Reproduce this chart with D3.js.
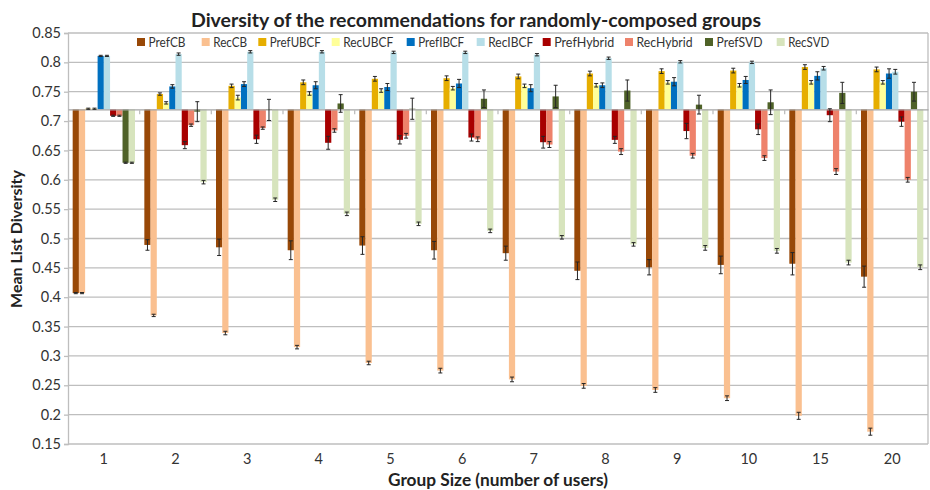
<!DOCTYPE html>
<html><head><meta charset="utf-8">
<script src="https://cdn.jsdelivr.net/npm/d3@7"></script>
<style>body{margin:0;background:#fff}svg{display:block}text{font-family:Lato,"Open Sans",sans-serif}</style>
</head><body><div id="chart"></div>
<script>
const categories = ["1","2","3","4","5","6","7","8","9","10","15","20"];
const seriesNames = ["PrefCB","RecCB","PrefUBCF","RecUBCF","PrefIBCF","RecIBCF","PrefHybrid","RecHybrid","PrefSVD","RecSVD"];
const seriesColors = ["#984807","#FAC090","#E6AE00","#FFFF99","#0070C0","#B7DEE8","#A80000","#EE826B","#4F6228","#D7E4BD"];
const prefCB = [0.407,0.489,0.485,0.480,0.488,0.480,0.475,0.445,0.451,0.455,0.457,0.435];
const prefCBErr = [0.001,0.009,0.014,0.016,0.015,0.015,0.012,0.015,0.013,0.015,0.019,0.018];
const recCB = [0.407,0.369,0.339,0.315,0.288,0.275,0.260,0.249,0.242,0.228,0.198,0.171];
const recCBErr = [0.001,0.002,0.003,0.003,0.003,0.004,0.004,0.004,0.004,0.004,0.006,0.006];
const prefUBCF = [0.721,0.746,0.760,0.766,0.772,0.773,0.776,0.781,0.785,0.786,0.792,0.788];
const prefUBCFErr = [0.001,0.002,0.003,0.004,0.004,0.004,0.004,0.004,0.004,0.004,0.004,0.004];
const recUBCF = [0.721,0.731,0.740,0.747,0.752,0.756,0.760,0.761,0.766,0.761,0.766,0.766];
const recUBCFErr = [0.001,0.002,0.004,0.003,0.003,0.003,0.003,0.003,0.003,0.003,0.003,0.003];
const prefIBCF = [0.811,0.759,0.763,0.761,0.758,0.764,0.756,0.761,0.767,0.770,0.777,0.781];
const prefIBCFErr = [0.001,0.003,0.004,0.006,0.006,0.007,0.006,0.004,0.007,0.006,0.007,0.008];
const recIBCF = [0.811,0.814,0.818,0.818,0.817,0.817,0.813,0.807,0.801,0.800,0.790,0.784];
const recIBCFErr = [0.001,0.002,0.002,0.002,0.002,0.002,0.002,0.002,0.002,0.002,0.003,0.004];
const prefHybrid = [0.709,0.659,0.669,0.663,0.668,0.672,0.664,0.668,0.683,0.686,0.710,0.699];
const prefHybridErr = [0.001,0.006,0.007,0.011,0.007,0.006,0.010,0.006,0.013,0.009,0.011,0.008];
const recHybrid = [0.709,0.693,0.688,0.684,0.675,0.669,0.660,0.648,0.641,0.637,0.614,0.600];
const recHybridErr = [0.001,0.002,0.002,0.003,0.004,0.004,0.005,0.005,0.004,0.004,0.005,0.004];
const prefSVD = [0.629,0.716,0.719,0.730,0.721,0.738,0.742,0.752,0.728,0.732,0.748,0.750];
const prefSVDErr = [0.001,0.017,0.018,0.015,0.018,0.015,0.019,0.018,0.016,0.021,0.018,0.016];
const recSVD = [0.629,0.596,0.566,0.542,0.525,0.513,0.502,0.490,0.484,0.479,0.459,0.451];
const recSVDErr = [0.001,0.003,0.003,0.003,0.003,0.003,0.003,0.003,0.004,0.004,0.004,0.004];
const yTicks = [0.15,0.2,0.25,0.3,0.35,0.4,0.45,0.5,0.55,0.6,0.65,0.7,0.75,0.8,0.85];
const baseline = 0.72;
const titleText = "Diversity of the recommendations for randomly-composed groups";
const xTitle = "Group Size (number of users)";
const yTitle = "Mean List Diversity";

const values = [prefCB,recCB,prefUBCF,recUBCF,prefIBCF,recIBCF,prefHybrid,recHybrid,prefSVD,recSVD];
const errors = [prefCBErr,recCBErr,prefUBCFErr,recUBCFErr,prefIBCFErr,recIBCFErr,prefHybridErr,recHybridErr,prefSVDErr,recSVDErr];

const W = 930, H = 490;
const L = 68, R = 928, T = 33, B = 444;
const svg = d3.select("#chart").append("svg").attr("width", W).attr("height", H);

const x = d3.scaleBand().domain(categories).range([L, R]).padding(0);
const xs = d3.scaleBand().domain(seriesNames).range([0, x.bandwidth()]).paddingInner(0).paddingOuter(0.75);
const y = d3.scaleLinear().domain([0.15, 0.85]).range([B, T]);

// gridlines
svg.append("g").selectAll("line").data(yTicks).join("line")
  .attr("x1", L).attr("x2", R).attr("y1", d => y(d)).attr("y2", d => y(d))
  .attr("stroke", "#BEBEBE").attr("stroke-width", 1.3);
svg.append("line").attr("x1", R).attr("x2", R).attr("y1", T).attr("y2", B).attr("stroke", "#BEBEBE").attr("stroke-width", 1.3);

// y axis
const yAxis = d3.axisLeft(y).tickValues(yTicks).tickFormat(d => String(+d.toFixed(2))).tickSize(4).tickPadding(3);
const gy = svg.append("g").attr("transform", `translate(${L},0)`).call(yAxis);
gy.select(".domain").attr("stroke", "#BEBEBE").attr("stroke-width", 1.3);
gy.selectAll(".tick line").attr("stroke", "#BEBEBE").attr("stroke-width", 1.3);
gy.selectAll("text").attr("font-size", 14.5).attr("fill", "#333").style("font-family", "Lato, sans-serif");

// bars
const data = [];
categories.forEach((c, i) => seriesNames.forEach((s, j) => data.push({c, s, j, v: values[j][i], e: errors[j][i]})));
svg.append("g").selectAll("rect").data(data).join("rect")
  .attr("x", d => x(d.c) + xs(d.s))
  .attr("width", xs.bandwidth())
  .attr("y", d => y(Math.max(d.v, baseline)))
  .attr("height", d => Math.abs(y(d.v) - y(baseline)))
  .attr("fill", d => seriesColors[d.j]);

// baseline axis
const gx = svg.append("g").attr("transform", `translate(0,${y(baseline)})`)
  .call(d3.axisBottom(x).tickSize(0).tickFormat(""));
gx.select(".domain").attr("stroke", "#A6A6A6").attr("stroke-width", 1.3);
svg.append("g").selectAll("line").data(categories.slice(1)).join("line")
  .attr("x1", d => x(d)).attr("x2", d => x(d))
  .attr("y1", y(baseline)).attr("y2", y(baseline) + 5)
  .attr("stroke", "#BEBEBE").attr("stroke-width", 1.3);

// error bars
const eg = svg.append("g").attr("stroke", "#262626").attr("stroke-width", 1);
data.forEach(d => {
  const cx = x(d.c) + xs(d.s) + xs.bandwidth() / 2;
  const y1 = y(d.v - d.e), y2 = y(d.v + d.e);
  eg.append("line").attr("x1", cx).attr("x2", cx).attr("y1", y1).attr("y2", y2);
  eg.append("line").attr("x1", cx - 2).attr("x2", cx + 2).attr("y1", y1).attr("y2", y1);
  eg.append("line").attr("x1", cx - 2).attr("x2", cx + 2).attr("y1", y2).attr("y2", y2);
});

// category labels
svg.append("g").selectAll("text").data(categories).join("text")
  .attr("x", d => x(d) + x.bandwidth() / 2).attr("y", 464)
  .attr("text-anchor", "middle").attr("font-size", 14.5).attr("fill", "#333").text(d => d);

// titles
svg.append("text").attr("x", 476).attr("y", 26.5).attr("text-anchor", "middle")
  .attr("font-size", 19).attr("font-weight", "bold").attr("fill", "#222")
  .attr("textLength", 570).attr("lengthAdjust", "spacingAndGlyphs").text(titleText);
svg.append("text").attr("x", 498).attr("y", 486).attr("text-anchor", "middle")
  .attr("font-size", 16.5).attr("font-weight", "bold").attr("fill", "#222")
  .attr("textLength", 220).attr("lengthAdjust", "spacingAndGlyphs").text(xTitle);
svg.append("text").attr("transform", "translate(22,239) rotate(-90)").attr("text-anchor", "middle")
  .attr("font-size", 16).attr("font-weight", "bold").attr("fill", "#222").text(yTitle);

// legend
const legendX = [137, 201.7, 258.3, 331.7, 406.7, 476.7, 542.7, 625, 705, 776.7];
const legendW = [37, 34, 51, 50, 46, 45, 60, 56, 46, 41];
const lg = svg.append("g");
seriesNames.forEach((s, j) => {
  lg.append("rect").attr("x", legendX[j]).attr("y", 38).attr("width", 8).attr("height", 8).attr("fill", seriesColors[j]);
  lg.append("text").attr("x", legendX[j] + 11.5).attr("y", 46.5).attr("font-size", 13).attr("fill", "#333")
    .attr("textLength", legendW[j]).attr("lengthAdjust", "spacingAndGlyphs").text(s);
});
</script></body></html>
